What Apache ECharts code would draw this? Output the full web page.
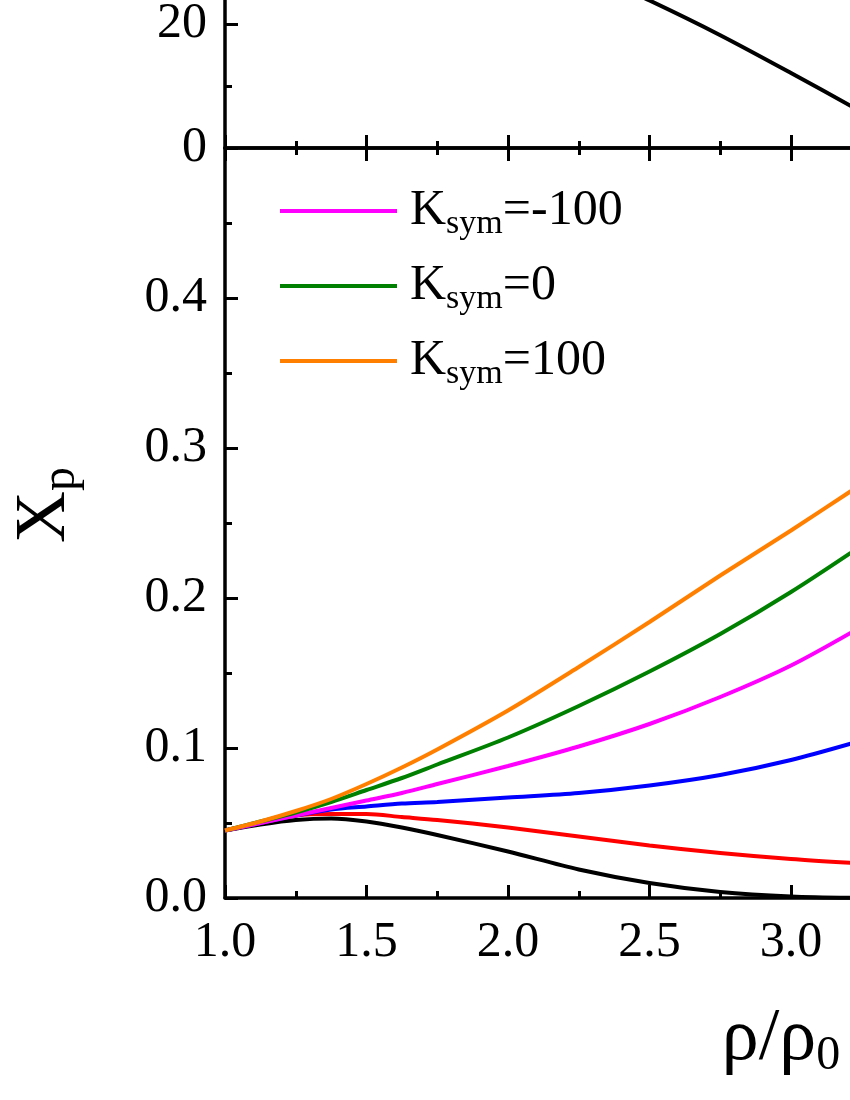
<!DOCTYPE html>
<html>
<head>
<meta charset="utf-8">
<script src="https://cdn.jsdelivr.net/npm/echarts@6/dist/echarts.min.js"></script>
<style>
  html, body { margin: 0; padding: 0; background: #fff; }
  #chart { width: 850px; height: 1100px; }
</style>
</head>
<body>
<div id="chart"></div>
<script>
// 横轴 rho/rho0
const rho = [1.0, 1.125, 1.25, 1.375, 1.5, 1.625, 1.75, 2.0, 2.25, 2.5, 2.75, 3.0, 3.25];
// 下图 Xp 曲线
const xpBlack   = [0.045, 0.049, 0.052, 0.053, 0.051, 0.047, 0.042, 0.031, 0.019, 0.010, 0.004, 0.001, 0.0];
const xpRed     = [0.045, 0.050, 0.055, 0.056, 0.056, 0.054, 0.052, 0.047, 0.041, 0.035, 0.030, 0.026, 0.023];
const xpBlue    = [0.045, 0.050, 0.055, 0.059, 0.061, 0.063, 0.064, 0.067, 0.070, 0.075, 0.082, 0.092, 0.105];
const xpMagenta = [0.045, 0.050, 0.055, 0.060, 0.065, 0.070, 0.076, 0.088, 0.101, 0.116, 0.134, 0.155, 0.181];
const xpGreen   = [0.045, 0.051, 0.057, 0.064, 0.072, 0.080, 0.089, 0.107, 0.128, 0.151, 0.176, 0.204, 0.235];
const xpOrange  = [0.045, 0.051, 0.058, 0.066, 0.076, 0.087, 0.099, 0.125, 0.154, 0.184, 0.215, 0.245, 0.276];
// 上图 (只看到一段)
const rhoTop = [2.25, 2.5, 2.75, 3.0, 3.25];
const topBlack = [29.0, 23.8, 18.2, 12.1, 5.8];

const legendNames = ['K_sym=-100', 'K_sym=0', 'K_sym=100'];
const legendValues = ['-100', '0', '100'];

const FONT = "'Liberation Serif', 'Times New Roman', serif";
const pair = (xs, ys) => xs.map((x, i) => [x, ys[i]]);

const chart = echarts.init(document.getElementById('chart'));

const axisLine = { show: true, lineStyle: { color: '#000', width: 3.5 } };
const tick = { show: true, inside: true, length: 13, lineStyle: { color: '#000', width: 3 } };
const minor = { show: true, splitNumber: 2, length: 7, lineStyle: { color: '#000', width: 3 } };
const labelStyle = { color: '#000', fontFamily: FONT, fontSize: 50 };

function line(name, data, color, xi, yi) {
  return {
    name: name, type: 'line', data: data, xAxisIndex: xi, yAxisIndex: yi,
    symbol: 'none', smooth: 0.3, lineStyle: { color: color, width: 4 },
    itemStyle: { color: color }, clip: true
  };
}

const legends = legendNames.map((n, i) => ({
  data: [n],
  left: 278,
  top: 186 + i * 75,
  padding: 0,
  itemWidth: 117,
  itemHeight: 4,
  lineStyle: { width: 4 },
  formatter: () => '{k|K}{s|sym}{k|=' + legendValues[i] + '}',
  textStyle: {
    padding: [0, 0, 0, 8],
    rich: {
      k: { fontFamily: FONT, fontSize: 50, lineHeight: 60, color: '#000' },
      s: { fontFamily: FONT, fontSize: 34, lineHeight: 20, verticalAlign: 'bottom', color: '#000' }
    }
  }
}));

const option = {
  animation: false,
  backgroundColor: '#fff',
  legend: legends,
  grid: [
    { left: 225, top: 148, width: 1132, height: 750, outerBoundsMode: 'none', containLabel: false },
    { left: 225, top: -100, width: 1132, height: 248, outerBoundsMode: 'none', containLabel: false }
  ],
  xAxis: [
    {
      gridIndex: 0, type: 'value', min: 1, max: 5, interval: 0.5, position: 'bottom',
      axisLine: axisLine, axisTick: tick, minorTick: minor, splitLine: { show: false },
      axisLabel: Object.assign({ margin: 20, formatter: v => v.toFixed(1) }, labelStyle),
      name: '{r|ρ/ρ}{s|0}', nameLocation: 'middle', nameGap: 102,
      nameTextStyle: {
        padding: [0, 20, 0, 0],
        rich: {
          r: { fontFamily: FONT, fontSize: 74, lineHeight: 80, color: '#000' },
          s: { fontFamily: FONT, fontSize: 48, lineHeight: 30, verticalAlign: 'bottom', color: '#000' }
        }
      }
    },
    {
      gridIndex: 0, type: 'value', min: 1, max: 5, interval: 0.5, position: 'top',
      axisLine: axisLine, axisTick: tick, minorTick: minor, splitLine: { show: false },
      axisLabel: { show: false }
    },
    {
      gridIndex: 1, type: 'value', min: 1, max: 5, interval: 0.5, position: 'bottom',
      axisLine: axisLine, axisTick: tick, minorTick: minor, splitLine: { show: false },
      axisLabel: { show: false }
    }
  ],
  yAxis: [
    {
      gridIndex: 0, type: 'value', min: 0, max: 0.5, interval: 0.1,
      axisLine: axisLine, axisTick: tick, minorTick: minor, splitLine: { show: false },
      axisLabel: Object.assign({ margin: 18, formatter: v => (v > 0.45 ? '' : v.toFixed(1)) }, labelStyle),
      name: '{x|X}{p|p}', nameLocation: 'middle', nameRotate: 90, nameGap: 140,
      nameTextStyle: {
        padding: [0, 0, 0, 36],
        rich: {
          x: { fontFamily: FONT, fontSize: 72, lineHeight: 80, color: '#000' },
          p: { fontFamily: FONT, fontSize: 48, lineHeight: 30, verticalAlign: 'bottom', color: '#000' }
        }
      }
    },
    {
      gridIndex: 1, type: 'value', min: 0, max: 40, interval: 20,
      axisLine: axisLine, axisTick: tick, minorTick: minor, splitLine: { show: false },
      axisLabel: Object.assign({ margin: 18 }, labelStyle)
    }
  ],
  series: [
    line('black', pair(rho, xpBlack), '#000000', 0, 0),
    line('red', pair(rho, xpRed), '#ff0000', 0, 0),
    line('blue', pair(rho, xpBlue), '#0000ff', 0, 0),
    line('K_sym=-100', pair(rho, xpMagenta), '#ff00ff', 0, 0),
    line('K_sym=0', pair(rho, xpGreen), '#008000', 0, 0),
    line('K_sym=100', pair(rho, xpOrange), '#ff8000', 0, 0),
    line('top', pair(rhoTop, topBlack), '#000000', 2, 1)
  ]
};

chart.setOption(option);
</script>
</body>
</html>
